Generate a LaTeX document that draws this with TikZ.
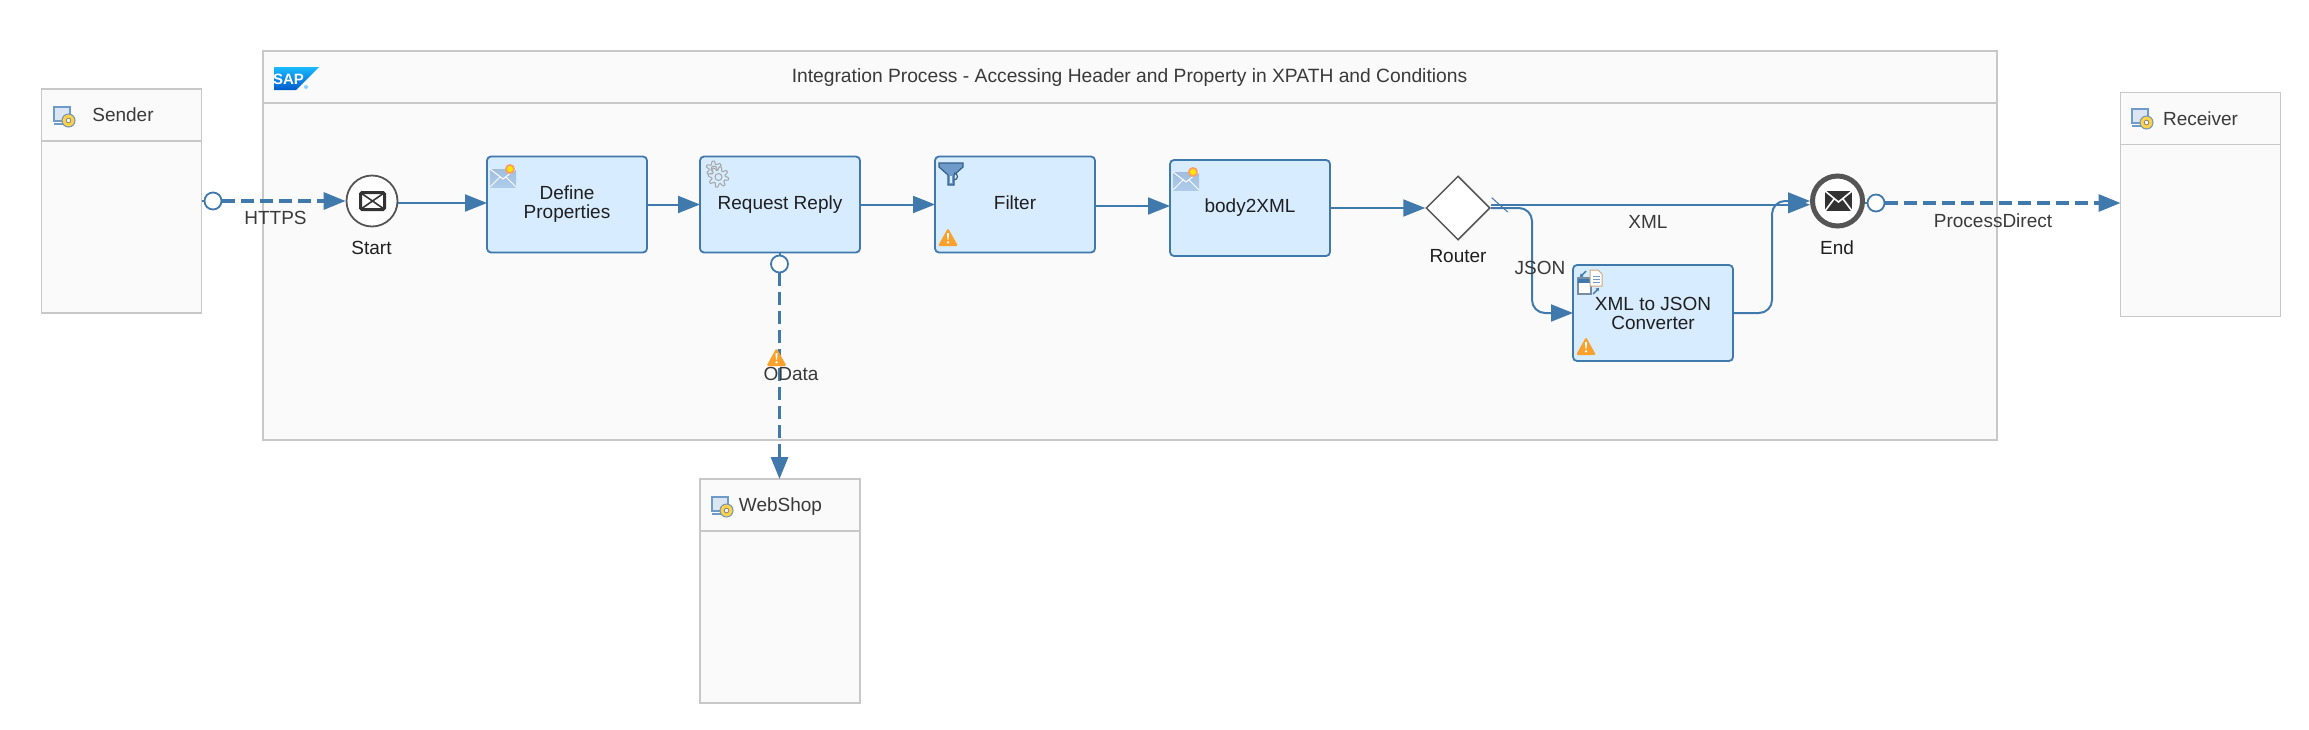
\documentclass[tikz,border=0pt]{standalone}
\usepackage{fontspec}
\setmainfont{Liberation Sans}
\usetikzlibrary{arrows.meta,shapes.geometric}
\definecolor{flowblue}{HTML}{4079AC}
\definecolor{taskfill}{HTML}{D7ECFF}
\definecolor{laneline}{HTML}{C8C8C8}
\definecolor{lanefill}{HTML}{FAFAFA}
\definecolor{labelgrey}{HTML}{3A3A3A}
\definecolor{iconblue}{HTML}{6F9BCB}
\definecolor{warnorange}{HTML}{F9A12B}
\definecolor{evgrey}{HTML}{555555}
\tikzset{
 lane/.style={draw=laneline,fill=lanefill,line width=1.9pt,minimum width=160pt,minimum height=224pt,inner sep=0pt,outer sep=0pt},
 laneline/.style={draw=laneline,line width=1.8pt},
 task/.style={draw=flowblue,fill=taskfill,line width=1.8pt,rounded corners=4pt,minimum width=160pt,minimum height=96pt,
  align=center,font=\fontsize{19}{19}\selectfont,text=black!88,inner sep=0pt,outer sep=0pt},
 label/.style={font=\fontsize{19}{19}\selectfont,text=labelgrey,inner sep=0pt},
 evlabel/.style={font=\fontsize{19}{19}\selectfont,text=black!88,inner sep=0pt},
 flow/.style={draw=flowblue,line width=2pt,-{Triangle[length=22pt,width=17pt]}},
 msg/.style={draw=flowblue,line width=3.1pt,dash pattern=on 13pt off 6pt,-{Triangle[length=22pt,width=17pt,sep=0pt]}},
 port/.style={circle,draw=flowblue,fill=white,line width=1.8pt,minimum size=17pt,inner sep=0pt},
 warnicon/.pic={
  \fill[warnorange,rounded corners=1.5pt] (10,0)--(20,18)--(0,18)--cycle;
  \fill[white] (9,5)--(11,5)--(10.6,11.5)--(9.4,11.5)--cycle;
  \fill[white] (10,14.3) circle (1.3pt);
 },
 hosticon/.pic={
  \draw[iconblue,line width=2pt,fill=iconblue!25] (1,1) rectangle (17,14.5);
  \draw[iconblue,line width=1.4pt] (1,18)--(10,18);
  \fill[yellow!55!orange!70,draw=iconblue!70!gray,line width=1pt] (15.5,14.5) circle (6.5pt);
  \fill[white,draw=gray,line width=.8pt] (15.5,14.5) circle (2.3pt);
 },
 mailicon/.pic={
  \fill[top color=iconblue!65,bottom color=taskfill!60!iconblue] (0,5)--(26,5)--(26,23)--(0,23)--cycle;
  \draw[white,line width=1pt] (0,5)--(13,15)--(26,5);
  \draw[white,line width=1pt] (0,23)--(10,13) (26,23)--(16,13);
  \fill[orange!70!red!60] (20,5) circle (5pt);
  \fill[yellow!90!orange] (20,5) circle (3pt);
 },
 gearicon/.pic={
  \draw[gray!70,line width=1pt,fill=taskfill] plot[domain=0:360,samples=49] ({9+\x:{6.5+1.5*sign(sin(6*\x))}}) -- cycle;
  \draw[gray!70,line width=1pt] (0,0) circle (3pt);
  \draw[gray!70,line width=1pt,fill=taskfill,xshift=4.5pt,yshift=-8pt] plot[domain=0:360,samples=65] ({\x:{8.5+1.7*sign(sin(8*\x))}}) -- cycle;
  \draw[gray!70,line width=1pt,xshift=4.5pt,yshift=-8pt] (0,0) circle (3.5pt);
 },
 filtericon/.pic={
  \fill[iconblue,draw=flowblue!80!black,line width=1.2pt] (0,1)--(24,1)--(24,5)--(15,13)--(15,23)--(9,23)--(9,13)--(0,5)--cycle;
  \draw[flowblue!80!black,line width=1.2pt] (15,11) arc (90:-90:3.5pt);
  \fill[taskfill] (11,14) rectangle (13,21);
 },
 converticon/.pic={
  \fill[white,draw=iconblue!50!gray,line width=1.6pt] (1,8) rectangle (14,24);
  \fill[flowblue] (1,9) rectangle (14,13);
  \fill[white,draw=gray!50!orange!70,line width=1pt] (13,0)--(21,0)--(25,4)--(25,16)--(13,16)--cycle;
  \draw[iconblue,line width=1pt] (15.5,6)--(22.5,6) (15.5,9)--(22.5,9) (15.5,12)--(22.5,12);
  \draw[flowblue,line width=1.4pt,-{Triangle[length=3pt,width=4pt]}] (9,1)--(3,7);
  \draw[flowblue,line width=1.4pt,-{Triangle[length=3pt,width=4pt]}] (16,24)--(22,18);
 },
}
\begin{document}
\begin{tikzpicture}[x=1pt,y=-1pt]
 \useasboundingbox (0,0) rectangle (2309,729);
 \fill[white] (0,0) rectangle (2309,729);
 % pools
 \node[lane] (sender) at (121.5,201) {};
 \draw[laneline] ([yshift=-52pt]sender.north west)--([yshift=-52pt]sender.north east);
 \node[lane,minimum width=1734pt,minimum height=389pt] (process) at (1130,245.5) {};
 \draw[laneline] ([yshift=-52pt]process.north west)--([yshift=-52pt]process.north east);
 \node[lane] (receiver) at (2200.5,204.5) {};
 \draw[laneline] ([yshift=-52pt]receiver.north west)--([yshift=-52pt]receiver.north east);
 \node[lane] (webshop) at (779.7,591) {};
 \draw[laneline] ([yshift=-52pt]webshop.north west)--([yshift=-52pt]webshop.north east);
 \node[label] (sendertext) at (123,114.5) {Sender};
 \node[label] (receivertext) at (2200.5,118.5) {Receiver};
 \node[label] (webshoptext) at (780.5,507) {WebShop};
 \node[label,font=\fontsize{19.25}{19}\selectfont] (processtext) at (1129.5,78) {Integration Process - Accessing Header and Property in XPATH and Conditions};
 \pic at (53,106) {hosticon};
 \pic at (2131,108) {hosticon};
 \pic at (711,496) {hosticon};
 % logo
 \shade[top color=cyan!70!blue!90,bottom color=blue!55!cyan!80!black] (274,67)--(319,67)--(296,90)--(274,90)--cycle;
 \node[text=white,inner sep=0pt,font=\bfseries\fontsize{15}{15}\selectfont] (saplogo) at (288.5,79.5) {SAP};
 \fill[blue!35!cyan!50] (306,87) circle (2pt);
 % events and steps
 \node[circle,draw=evgrey,fill=white,line width=1.8pt,minimum size=51pt,inner sep=0pt] (start) at (372,201) {};
 \node[task] (define) at (567,204.5) {Define\\Properties};
 \node[task] (request) at (780,204.5) {Request Reply};
 \node[task] (filter) at (1015,204.5) {Filter\vphantom{y}};
 \node[task] (body) at (1250,208) {body2XML};
 \node[diamond,draw=evgrey,fill=white,line width=1.5pt,minimum width=64pt,minimum height=64pt,inner sep=0pt] (router) at (1458,208) {};
 \node[task] (convert) at (1653,313) {XML to JSON\\Converter};
 \node[circle,draw=evgrey,fill=white,line width=5pt,minimum size=50pt,inner sep=0pt] (end) at (1837.5,201) {};
 \node[evlabel] (starttext) at (371.5,247.7) {Start};
 \node[evlabel] (routertext) at (1458,255.7) {Router};
 \node[evlabel] (endtext) at (1837,247.5) {End};
 % mail marks
 \draw[evgrey!60!black,line width=3pt,fill=white,rounded corners=1.5pt] (360.5,192.5) rectangle (384.5,209.5);
 \draw[evgrey!60!black,line width=1.6pt] (361,193)--(384,209) (384,193)--(361,209);
 \fill[black!80] (1825,191) rectangle (1852,211);
 \draw[white,line width=1.6pt] (1825,191)--(1838.5,202)--(1852,191) (1825,211)--(1834,199) (1852,211)--(1843,199);
 % connectors
 \coordinate (jsonbend) at (1532,313);
 \coordinate (endbend) at (1772,201);
 \draw[flow] ([yshift=-2pt]start.east)--([yshift=1.5pt]define.west);
 \draw[flow] (define.east)--(request.west);
 \draw[flow] (request.east)--(filter.west);
 \draw[flow] ([yshift=-1.5pt]filter.east)--([yshift=2pt]body.west);
 \draw[flow] (body.east)--(router.west);
 \draw[flow] ([yshift=3.3pt]router.east)--([yshift=-3.7pt]end.west);
 \draw[flow,rounded corners=13pt] (router.east)-|(jsonbend)--(convert.west);
 \draw[flow,rounded corners=13pt] (convert.east)-|(endbend)--(end.west);
 \draw[draw=flowblue,line width=1pt] (1491.7,197.7)--(1507.7,212);
 % message flows
 \node[port] (senderport) at (213,201) {};
 \node[port] (endport) at (1876,203) {};
 \node[port] (odataport) at (779.5,264) {};
 \draw[draw=flowblue,line width=2pt] (senderport.west)--(senderport.west-|sender.east);
 \draw[draw=flowblue,line width=2pt] (endport.west)--(endport.west-|end.east);
 \draw[draw=flowblue,line width=2pt] (odataport.north)--(odataport.north|-request.south);
 \draw[msg] (senderport.east)--(start.west);
 \draw[msg] (endport.east)--(endport.east-|receiver.west);
 \draw[msg] (odataport.south)--(odataport.south|-webshop.north);
 \node[label] (httpstext) at (275.5,218) {HTTPS};
 \node[label] (xmltext) at (1648,222) {XML};
 \node[label] (jsontext) at (1540,268) {JSON};
 \node[label] (directtext) at (1993,220.7) {ProcessDirect};
 \node[label] (odatatext) at (791,374) {OData};
 % step icons
 \pic at (490,164) {mailicon};
 \pic at (1173,167) {mailicon};
 \pic at (714,169) {gearicon};
 \pic at (939,162) {filtericon};
 \pic at (1577,270) {converticon};
 \pic at (938,228) {warnicon};
 \pic at (1576,337) {warnicon};
 \pic at (766.5,348) {warnicon};
\end{tikzpicture}
\end{document}
